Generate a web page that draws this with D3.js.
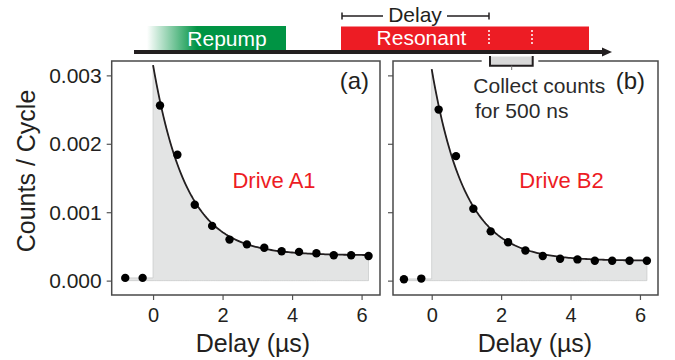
<!DOCTYPE html>
<html>
<head>
<meta charset="utf-8">
<script src="https://cdn.jsdelivr.net/npm/d3@7"></script>
<style>
  html, body { margin: 0; padding: 0; background: #fff; }
  svg { display: block; }
  text { font-family: "Liberation Sans", Arial, Helvetica, sans-serif; }
</style>
</head>
<body>
<svg id="chart" width="675" height="360"></svg>
<script>
// Delay after the end of the repump pulse (µs)
const delays = [-0.8, -0.3, 0.2, 0.7, 1.2, 1.7, 2.2, 2.7, 3.2, 3.7, 4.2, 4.7, 5.2, 5.7, 6.2];
// Photon counts per cycle in a 500 ns window
const countsA = [0.00004, 0.00004, 0.00256, 0.00184, 0.00111, 0.00080, 0.00060, 0.00053, 0.00048, 0.00043, 0.00042, 0.00040, 0.00037, 0.00037, 0.00036];
const countsB = [0.00002, 0.00003, 0.00250, 0.00182, 0.00105, 0.00072, 0.00056, 0.00044, 0.00036, 0.00032, 0.00031, 0.00029, 0.00029, 0.00029, 0.00029];
// Exponential fit parameters: [amplitude, time constant (µs), offset]
const fitA = [0.00278, 0.95, 0.00037];
const fitB = [0.00280, 0.95, 0.00029];
const fitRange = [0, 6.2];
const xTicks = [0, 2, 4, 6];
const yTicks = [0, 0.001, 0.002, 0.003];
const panelTags = ["(a)", "(b)"];
const driveLabels = ["Drive A1", "Drive B2"];

const ink = "#231f20";
const red = "#ed1c24";
const green = "#009444";
const svg = d3.select("#chart");

// ---------- pulse sequence diagram ----------
const defs = svg.append("defs");
const grad = defs.append("linearGradient").attr("id", "repumpFade")
  .attr("x1", "0%").attr("x2", "100%");
grad.append("stop").attr("offset", "0%").attr("stop-color", green).attr("stop-opacity", 0);
grad.append("stop").attr("offset", "36%").attr("stop-color", green).attr("stop-opacity", 1);
grad.append("stop").attr("offset", "100%").attr("stop-color", green).attr("stop-opacity", 1);

svg.append("rect").attr("x", 147).attr("y", 26).attr("width", 139).attr("height", 25)
  .attr("fill", "url(#repumpFade)");
svg.append("text").attr("x", 227).attr("y", 45.5).attr("text-anchor", "middle")
  .attr("font-size", 21).attr("fill", "#fff").text("Repump");

svg.append("rect").attr("x", 341).attr("y", 26.5).attr("width", 248).attr("height", 24.5)
  .attr("fill", red);
svg.append("text").attr("x", 421.5).attr("y", 45).attr("text-anchor", "middle")
  .attr("font-size", 21).attr("fill", "#fff").text("Resonant");
[489, 532].forEach(x => {
  svg.append("line").attr("x1", x).attr("x2", x).attr("y1", 30).attr("y2", 46)
    .attr("stroke", "#fff").attr("stroke-width", 1.5).attr("stroke-dasharray", "2,2");
});

// time axis arrow
svg.append("line").attr("x1", 134).attr("x2", 604).attr("y1", 52).attr("y2", 52)
  .attr("stroke", ink).attr("stroke-width", 4);
svg.append("path").attr("d", "M602,47.5 L612,52 L602,56.5 Z").attr("fill", ink);

// delay bracket
svg.append("path")
  .attr("d", "M342,16 H383 M447,16 H489 M342,12.5 V19.5 M489,12.5 V19.5")
  .attr("stroke", ink).attr("stroke-width", 1.5).attr("fill", "none");
svg.append("text").attr("x", 415).attr("y", 21.5).attr("text-anchor", "middle")
  .attr("font-size", 21).attr("fill", ink).text("Delay");

// ---------- data panels ----------
const yTop = 61, yBottom = 295;
const panels = [
  { counts: countsA, fit: fitA, left: 111.7, right: 380, xDomain: [-1.19, 6.53],
    showYLabels: true, tagX: 369, driveX: 274, titleX: 253 },
  { counts: countsB, fit: fitB, left: 393, right: 658, xDomain: [-1.115, 6.52],
    showYLabels: false, tagX: 645, driveX: 561.5, titleX: 535 }
];

const y = d3.scaleLinear().domain([-0.00021, 0.00321]).range([yBottom, yTop]);

panels.forEach((p, i) => {
  const x = d3.scaleLinear().domain(p.xDomain).range([p.left, p.right]);
  const g = svg.append("g");
  const [amp, tau, off] = p.fit;
  const model = t => amp * Math.exp(-t / tau) + off;

  g.append("rect").attr("x", p.left).attr("y", yTop)
    .attr("width", p.right - p.left).attr("height", yBottom - yTop).attr("fill", "#fff");

  // shaded region: pre-pulse level, then the fitted decay
  const pre = d3.mean(p.counts.slice(0, 2));
  const curvePts = d3.range(fitRange[0], fitRange[1] + 1e-9, 0.05).map(t => [t, model(t)]);
  const areaPts = [[-0.9, pre], [0, pre]].concat(curvePts);
  const area = d3.area().x(d => x(d[0])).y0(y(0)).y1(d => y(d[1]));
  g.append("path").attr("d", area(areaPts))
    .attr("fill", "#e3e4e4").attr("stroke", "#c9cbcb").attr("stroke-width", 0.8);

  // fit line
  const line = d3.line().x(d => x(d[0])).y(d => y(d[1]));
  g.append("path").attr("d", line(curvePts))
    .attr("fill", "none").attr("stroke", ink).attr("stroke-width", 1.8);

  // measured points
  g.selectAll("circle.pt").data(delays.map((d, k) => [d, p.counts[k]]))
    .enter().append("circle").attr("class", "pt")
    .attr("cx", d => x(d[0])).attr("cy", d => y(d[1])).attr("r", 4.2).attr("fill", "#000");

  // axes
  const xAxis = g.append("g").attr("transform", `translate(0,${yBottom})`)
    .call(d3.axisBottom(x).tickValues(xTicks).tickSize(5).tickPadding(6).tickFormat(d3.format("d")));
  xAxis.select(".domain").remove();
  xAxis.selectAll("line").attr("stroke", "#555").attr("stroke-width", 1.2);
  xAxis.selectAll("text").attr("font-size", 20).attr("fill", ink)
    .attr("font-family", '"Liberation Sans", Arial, sans-serif').attr("dy", 0).attr("y", 27);

  const yAxis = g.append("g").attr("transform", `translate(${p.left},0)`)
    .call(d3.axisLeft(y).tickValues(yTicks).tickSize(5).tickPadding(5).tickFormat(d3.format(".3f")));
  yAxis.select(".domain").remove();
  yAxis.selectAll("line").attr("stroke", "#555").attr("stroke-width", 1.2);
  yAxis.selectAll("text").attr("font-size", 21).attr("fill", ink)
    .attr("font-family", '"Liberation Sans", Arial, sans-serif').attr("dy", "0.34em");
  if (!p.showYLabels) yAxis.selectAll("text").remove();

  // frame (panel b leaves a gap for the counting window bracket)
  const frame = i === 0
    ? `M${p.left},${yTop} H${p.right} V${yBottom} H${p.left} Z`
    : `M481.7,${yTop} H${p.left} V${yBottom} H${p.right} V${yTop} H538.3`;
  g.append("path").attr("d", frame).attr("fill", "none")
    .attr("stroke", "#4a4a4a").attr("stroke-width", 1.5);

  g.append("text").attr("x", p.tagX).attr("y", 88.5).attr("text-anchor", "end")
    .attr("font-size", 24).attr("fill", ink).text(panelTags[i]);
  g.append("text").attr("x", p.driveX).attr("y", 188.3).attr("text-anchor", "middle")
    .attr("font-size", 22).attr("fill", red).text(driveLabels[i]);
  g.append("text").attr("x", p.titleX).attr("y", 351.5).attr("text-anchor", "middle")
    .attr("font-size", 25).attr("fill", ink).text("Delay (µs)");
});

// y axis title
svg.append("text").attr("transform", "translate(35,171) rotate(-90)")
  .attr("text-anchor", "middle").attr("font-size", 25).attr("fill", ink).text("Counts / Cycle");

// counting window bracket under the time axis
svg.append("rect").attr("x", 490).attr("y", 56.5).attr("width", 42.7).attr("height", 9.2)
  .attr("fill", "#d9d9d9");
svg.append("path").attr("d", "M490,56 V65.7 H532.7 V56")
  .attr("fill", "none").attr("stroke", ink).attr("stroke-width", 2);
svg.append("line").attr("x1", 511.7).attr("x2", 511.7).attr("y1", 65.7).attr("y2", 70)
  .attr("stroke", "#777").attr("stroke-width", 1);
svg.append("text").attr("x", 473.3).attr("y", 93.3).attr("font-size", 21)
  .attr("fill", "#2b2b2b").text("Collect counts");
svg.append("text").attr("x", 475).attr("y", 118.3).attr("font-size", 21)
  .attr("fill", "#2b2b2b").text("for 500 ns");
</script>
</body>
</html>
